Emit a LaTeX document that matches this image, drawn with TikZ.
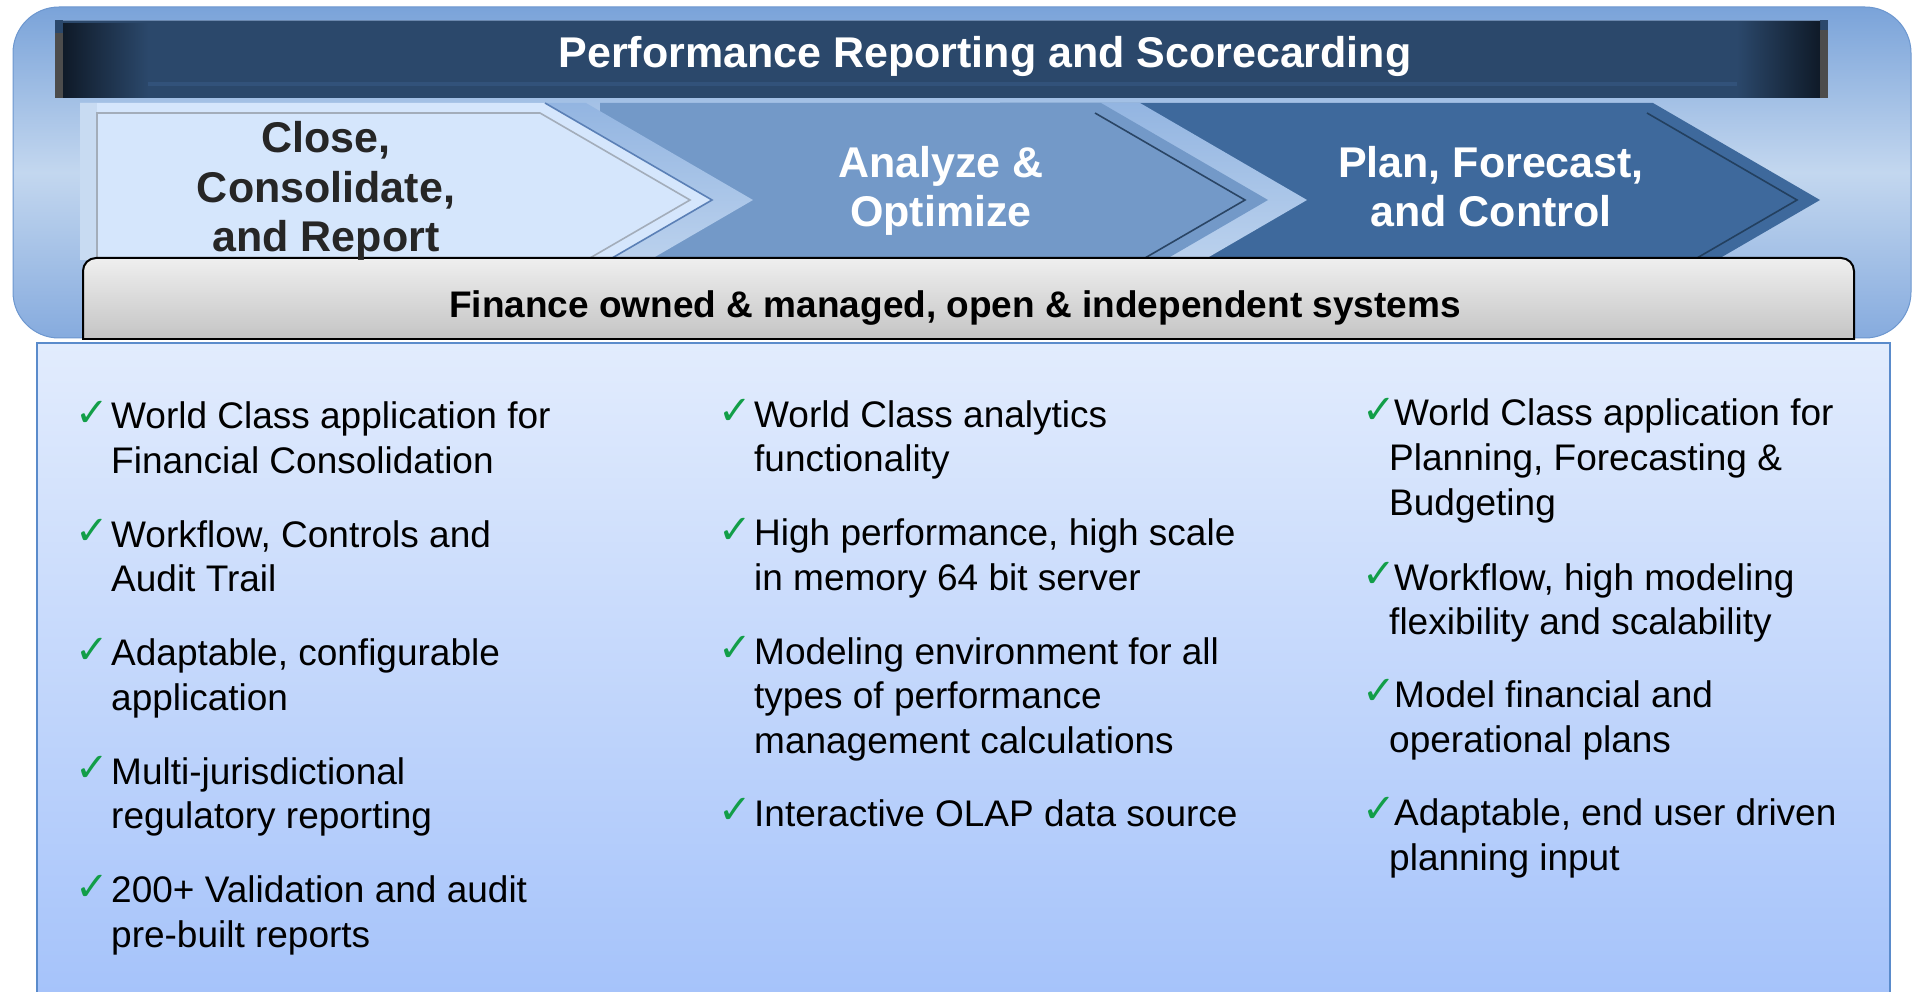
\documentclass[tikz,border=0pt]{standalone}
\usepackage{fontspec}
\setmainfont{Liberation Sans}
\newfontfamily\checkfont{DejaVu Sans}
\definecolor{navy}{HTML}{2B486B}
\definecolor{navydark}{HTML}{0F1A28}
\definecolor{navyline}{HTML}{6B88AE}
\definecolor{navystripe}{HTML}{32527A}
\definecolor{frametop}{HTML}{7AA3D9}
\definecolor{framemid}{HTML}{C3D7EF}
\definecolor{framebot}{HTML}{86ABDE}
\definecolor{frameedge}{HTML}{6D97CF}
\definecolor{chevA}{HTML}{D5E6FC}
\definecolor{chevAstrip}{HTML}{C8DBF2}
\definecolor{chevAedge}{HTML}{5B80B6}
\definecolor{chevAline}{HTML}{A3ADBA}
\definecolor{chevB}{HTML}{7399C8}
\definecolor{chevBline}{HTML}{2A4565}
\definecolor{chevC}{HTML}{3E699C}
\definecolor{chevCline}{HTML}{23405F}
\definecolor{bandtop}{HTML}{93B5E1}
\definecolor{bandbot}{HTML}{C4D8F0}
\definecolor{grayTop}{HTML}{EFEFEF}
\definecolor{grayBot}{HTML}{B8B8B8}
\definecolor{panelTop}{HTML}{E2ECFD}
\definecolor{panelBot}{HTML}{A4C2FA}
\definecolor{panelEdge}{HTML}{5A8BCB}
\definecolor{checkgreen}{HTML}{129E48}
\definecolor{darktext}{HTML}{262626}
\begin{document}
\begin{tikzpicture}[x=1pt,y=-1pt,
  headtxt/.style={font=\bfseries\fontsize{43}{49.5}\selectfont, inner sep=0pt, anchor=base},
  bandtxt/.style={font=\bfseries\fontsize{37}{44}\selectfont, inner sep=0pt, anchor=base},
  bodytxt/.style={font=\fontsize{37}{44.5}\selectfont, inner sep=0pt, anchor=base west},
  tick/.style={font=\checkfont\fontsize{40}{40}\selectfont, text=checkgreen, inner sep=0pt, anchor=base west},
  chevline/.style={line width=1.6pt}
]
\useasboundingbox (0,0) rectangle (1912,992);
\clip (0,0) rectangle (1912,992);

% outer rounded frame
\path[draw=frameedge, line width=1pt, top color=frametop, bottom color=framebot, middle color=framemid, rounded corners=46pt]
  (13,7) rectangle (1911,338);

% title bar
\fill[navy] (55,20) rectangle (1828,98);
\shade[left color=navydark, right color=navy] (63,24) rectangle (148,98);
\shade[left color=navy, right color=navydark] (1737,22) rectangle (1820,98);
\fill[gray!60!black] (55,33) rectangle (63,98);
\fill[gray!60!black] (1820,30) rectangle (1828,98);
\draw[navyline, line width=1.5pt] (63,20.5) -- (1820,20.5);
\fill[navystripe] (148,82) rectangle (1737,86);

% chevrons
\begin{scope}
  \clip (80,103) rectangle (1840,260);
  \fill[chevC] (1000,103) -- (1653,103) -- (1820,200) -- (1653,297) -- (1000,297) -- cycle;
  \draw[chevCline, chevline] (1647,113) -- (1797,200) -- (1647,287);
  \shade[top color=bandtop, bottom color=bandbot] (1000,103) -- (1140,103) -- (1307,200) -- (1140,297) -- (1000,297) -- cycle;
  \fill[chevB] (600,103) -- (1101,103) -- (1268,200) -- (1101,297) -- (600,297) -- cycle;
  \draw[chevBline, chevline] (1095,113) -- (1245,200) -- (1095,287);
  \shade[top color=bandtop, bottom color=bandbot] (500,103) -- (586,103) -- (753,200) -- (586,297) -- (500,297) -- cycle;
  \fill[chevA] (80,103) -- (545,103) -- (712,200) -- (545,297) -- (80,297) -- cycle;
  \fill[chevAstrip] (80,103) rectangle (97,297);
  \draw[chevAedge, chevline] (545,103) -- (712,200) -- (545,297);
  \draw[chevAline, chevline] (97,262) -- (97,113) -- (540,113) -- (690,200) -- (540,287);
\end{scope}

% gray band
\begin{scope}
  \clip (70,250) rectangle (1870,340);
  \path[draw=black, line width=2pt, top color=grayTop, bottom color=grayBot, rounded corners=13pt]
    (83,258) rectangle (1854,362);
\end{scope}
\draw[black, line width=2pt] (82,339) -- (1855,339);

% lower panel
\path[draw=panelEdge, line width=2.5pt, top color=panelTop, bottom color=panelBot]
  (37,343) rectangle (1890,1010);

% header texts
\node[headtxt, text=white] (title) at (985,68) {Performance Reporting and Scorecarding};
\node[headtxt, text=darktext] (ca) at (326,153) {Close,};
\node[headtxt, text=darktext] (cb) at (326,203) {Consolidate,};
\node[headtxt, text=darktext] (cc) at (326,252) {and Report};
\node[headtxt, text=white] (aa) at (941,178) {Analyze \&};
\node[headtxt, text=white] (ab) at (941,227) {Optimize};
\node[headtxt, text=white] (pa) at (1491,178) {Plan, Forecast,};
\node[headtxt, text=white] (pb) at (1491,227) {and Control};
\node[bandtxt, text=black] (band) at (955,317.5) {Finance owned \& managed, open \& independent systems};

% column 1
\node[tick] (k1a) at (75,426) {✓};
\node[bodytxt] (l1a) at (111,428.5) {World Class application for};
\node[bodytxt] (l1b) at (111,473) {Financial Consolidation};
\node[tick] (k1b) at (75,544.5) {✓};
\node[bodytxt] (l1c) at (111,547) {Workflow, Controls and};
\node[bodytxt] (l1d) at (111,591.5) {Audit Trail};
\node[tick] (k1c) at (75,663) {✓};
\node[bodytxt] (l1e) at (111,665.5) {Adaptable, configurable};
\node[bodytxt] (l1f) at (111,710) {application};
\node[tick] (k1d) at (75,781.5) {✓};
\node[bodytxt] (l1g) at (111,784) {Multi-jurisdictional};
\node[bodytxt] (l1h) at (111,828.5) {regulatory reporting};
\node[tick] (k1e) at (75,900) {✓};
\node[bodytxt] (l1i) at (111,902.5) {200+ Validation and audit};
\node[bodytxt] (l1j) at (111,947) {pre-built reports};

% column 2
\node[tick] (k2a) at (718,424.5) {✓};
\node[bodytxt] (l2a) at (754,427) {World Class analytics};
\node[bodytxt] (l2b) at (754,471.5) {functionality};
\node[tick] (k2b) at (718,543) {✓};
\node[bodytxt] (l2c) at (754,545.5) {High performance, high scale};
\node[bodytxt] (l2d) at (754,590) {in memory 64 bit server};
\node[tick] (k2c) at (718,661.5) {✓};
\node[bodytxt] (l2e) at (754,664) {Modeling environment for all};
\node[bodytxt] (l2f) at (754,708.5) {types of performance};
\node[bodytxt] (l2g) at (754,753) {management calculations};
\node[tick] (k2d) at (718,823.5) {✓};
\node[bodytxt] (l2h) at (754,826) {Interactive OLAP data source};

% column 3
\node[tick] (k3a) at (1362,423) {✓};
\node[bodytxt] (l3a) at (1394,425.5) {World Class application for};
\node[bodytxt] (l3b) at (1389,470.5) {Planning, Forecasting \&};
\node[bodytxt] (l3c) at (1389,515.5) {Budgeting};
\node[tick] (k3b) at (1362,587.5) {✓};
\node[bodytxt] (l3d) at (1394,590) {Workflow, high modeling};
\node[bodytxt] (l3e) at (1389,634) {flexibility and scalability};
\node[tick] (k3c) at (1362,704.5) {✓};
\node[bodytxt] (l3f) at (1394,707) {Model financial and};
\node[bodytxt] (l3g) at (1389,752) {operational plans};
\node[tick] (k3d) at (1362,822.5) {✓};
\node[bodytxt] (l3h) at (1394,825) {Adaptable, end user driven};
\node[bodytxt] (l3i) at (1389,870) {planning input};
\end{tikzpicture}
\end{document}
